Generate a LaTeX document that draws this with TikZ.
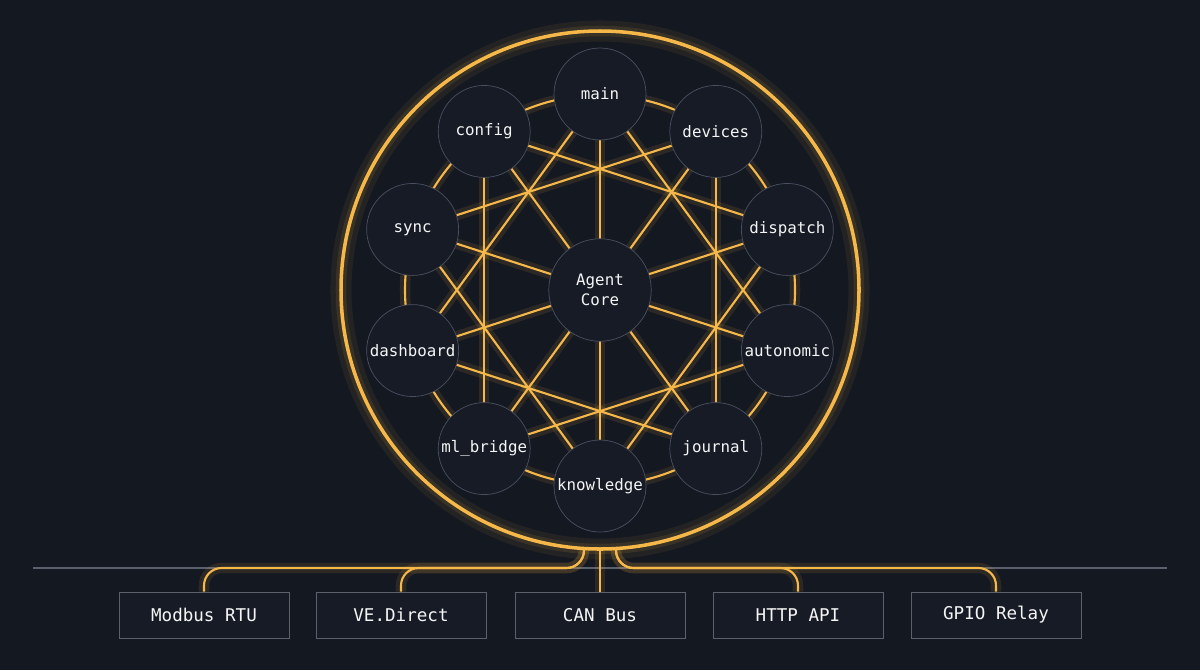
\documentclass[tikz,border=0pt]{standalone}
\usepackage{fontspec}
\setmonofont{DejaVu Sans Mono}
\usetikzlibrary{positioning,calc}
\definecolor{bg}{HTML}{141821}
\definecolor{nodefill}{HTML}{161B26}
\definecolor{nodeline}{HTML}{4A5060}
\definecolor{amber}{HTML}{F7B84A}
\definecolor{busgray}{HTML}{5A606C}
\tikzset{
  glow/.style={amber,line width=6pt,opacity=0.10},
  wire/.style={amber,line width=1.2pt},
  module/.style={circle,draw=nodeline,fill=nodefill,minimum size=1.84cm,inner sep=0pt,
    text=white!92!gray,font=\ttfamily\fontsize{9}{11}\selectfont},
  core/.style={module,minimum size=2.05cm,align=center},
  port/.style={draw=busgray,fill=nodefill,minimum width=3.4cm,minimum height=0.92cm,
    text=white!92!gray,font=\ttfamily\fontsize{10}{12}\selectfont}
}
\begin{document}
\begin{tikzpicture}[x=0.02cm,y=-0.02cm]
\fill[bg] (0,0) rectangle (1200,670);
\useasboundingbox (0,0) rectangle (1200,670);
% outer ring
\draw[glow,line width=12pt,opacity=0.07] (600,290) circle[radius=259];
\draw[glow] (600,290) circle[radius=259];
\draw[amber,line width=2pt] (600,290) circle[radius=259];
% inner ring
\draw[glow] (600,290) circle[radius=195];
\draw[wire] (600,290) circle[radius=195];
% modules on the ring
\coordinate (c) at (600,290);
\foreach \name [count=\i from 0] in {main,devices,dispatch,autonomic,journal,knowledge,ml_bridge,dashboard,sync,config}
  \coordinate (p\i) at ($(c)+({197*cos(90-36*\i)},{-196*sin(90-36*\i)})$);
% spokes and chords
\foreach \i in {0,...,9}{
  \pgfmathtruncatemacro{\j}{mod(\i+3,10)}
  \draw[glow] (c) -- (p\i);
  \draw[glow] (p\i) -- (p\j);
  \draw[wire] (c) -- (p\i);
  \draw[wire] (p\i) -- (p\j);
}
\node[core] (agent) at (c) {Agent\\Core};
\foreach \name [count=\i from 0] in {main,devices,dispatch,autonomic,journal,knowledge,ml\_bridge,dashboard,sync,config}
  \node[module] (m\i) at (p\i) {\name};
% bus
\draw[busgray,line width=0.8pt] (33,568) -- (1167,568);
\node[port] (modbus) at (204,615) {Modbus RTU};
\node[port] (vedirect) at (401,615) {VE.Direct};
\node[port] (canbus) at (600,615) {CAN Bus};
\node[port] (http) at (798,615) {HTTP API};
\node[port] (gpio) at (996,615) {GPIO Relay};
\coordinate (tapl) at (584,547);
\coordinate (tapc) at (600,549);
\coordinate (tapr) at (616,547);
\foreach \s in {glow,wire}{
  \draw[\s,rounded corners=10] (tapl) |- (204,568) -- (modbus.north);
  \draw[\s,rounded corners=10] (tapl) |- (401,568) -- (vedirect.north);
  \draw[\s] (tapc) -- (canbus.north);
  \draw[\s,rounded corners=10] (tapr) |- (798,568) -- (http.north);
  \draw[\s,rounded corners=10] (tapr) |- (996,568) -- (gpio.north);
}
\end{tikzpicture}
\end{document}
